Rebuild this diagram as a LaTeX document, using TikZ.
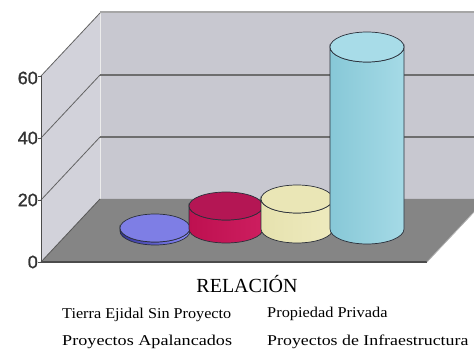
\documentclass[tikz,border=0pt]{standalone}
\usepackage{fontspec}
\setmainfont{Liberation Serif}
\newfontfamily\axisfont[FakeBold=1.2]{Liberation Sans}
\definecolor{wallback}{HTML}{C8C8D0}
\definecolor{wallleft}{HTML}{D2D2DA}
\definecolor{floorc}{HTML}{858585}
\definecolor{gridc}{HTML}{6E6E6E}
\definecolor{cylline}{HTML}{2A2F3A}
\newcommand\drawcyl[7]{%
  \path[draw=cylline, line width=0.7pt, #6] (#1-#4,#3) -- (#1-#4,#2)
    arc[start angle=180,end angle=360,x radius=#4,y radius=#5] -- (#1+#4,#3)
    arc[start angle=0,end angle=-180,x radius=#4,y radius=#5] -- cycle;
  \path[draw=cylline, line width=0.7pt, fill=#7] (#1,#3) ellipse[x radius=#4,y radius=#5];
}
\tikzset{
  axislbl/.style={anchor=east, inner sep=0pt, text=black!80, font=\axisfont\fontsize{18}{18}\selectfont},
  legend/.style={anchor=base west, inner sep=0pt, font=\fontsize{15}{18}\selectfont},
  grid/.style={draw=gridc, line width=1.2pt},
  diag/.style={draw=gridc!90!black, line width=0.8pt}
}
\begin{document}
\begin{tikzpicture}[x=1pt,y=1pt]
\useasboundingbox (0,0) rectangle (474,351);
\begin{scope}
\clip (0,0) rectangle (474,351);
% back wall
\fill[wallback] (100,152) rectangle (480,340);
% left wall
\fill[wallleft] (41,89) -- (41,275) -- (100,338) -- (100,152) -- cycle;
\draw[white!85!gray, line width=0.8pt] (100,152) -- (100,340);
% gridlines
\draw[grid] (100,214) -- (480,214);
\draw[grid] (100,276) -- (480,276);
\draw[draw=gray!70, line width=1.6pt] (100,339) -- (480,339);
\draw[diag] (41,151) -- (100,214);
\draw[diag] (41,213) -- (100,276);
\draw[diag] (41,275) -- (100,338);
% floor
\fill[floorc] (41,89) -- (427,89) -- (490,156) -- (490,152) -- (100,152) -- cycle;
\draw[gray!60!black, line width=1.2pt] (41,89) -- (427,89);
\draw[gray!60, line width=0.8pt] (427,89) -- (490,156);
\draw[gray!70!black, line width=0.8pt] (41,89) -- (100,152);
% axis
\draw[gray!60!black, line width=0.8pt] (41,88) -- (41,275);
\foreach \yy in {89,151,213,275} \draw[gray!60!black, line width=0.8pt] (38,\yy) -- (41,\yy);
\end{scope}
\node[axislbl] (t0) at (38,89) {0};
\node[axislbl] (t20) at (38,151) {20};
\node[axislbl] (t40) at (38,213) {40};
\node[axislbl] (t60) at (38,273) {60};
% cylinders
\drawcyl{155}{120}{123}{35}{14}{left color=blue!50!black!80, right color=blue!45!white}{blue!45!white!90!black}
\drawcyl{226}{122}{145}{37}{14}{left color={rgb,255:red,190;green,16;blue,80}, middle color={rgb,255:red,230;green,60;blue,120}, right color={rgb,255:red,205;green,30;blue,95}}{{rgb,255:red,180;green,22;blue,84}}
\drawcyl{297}{122}{152}{36}{14}{left color={rgb,255:red,230;green,226;blue,175}, middle color={rgb,255:red,251;green,249;blue,222}, right color={rgb,255:red,238;green,234;blue,190}}{{rgb,255:red,234;green,230;blue,182}}
\drawcyl{367}{122}{304}{37}{15}{left color={rgb,255:red,135;green,200;blue,215}, middle color={rgb,255:red,200;green,238;blue,246}, right color={rgb,255:red,165;green,218;blue,230}}{{rgb,255:red,168;green,220;blue,232}}
% texts
\node[anchor=base, inner sep=0pt, font=\fontsize{20}{22}\selectfont] (title) at (247,59) {RELACIÓN};
\node[legend, xscale=1.08] (l1) at (62,33) {Tierra Ejidal Sin Proyecto};
\node[legend, xscale=1.09] (l2) at (267,34) {Propiedad Privada};
\node[legend, xscale=1.21] (l3) at (62,6) {Proyectos Apalancados};
\node[legend, xscale=1.19] (l4) at (267,6) {Proyectos de Infraestructura};
\end{tikzpicture}
\end{document}
